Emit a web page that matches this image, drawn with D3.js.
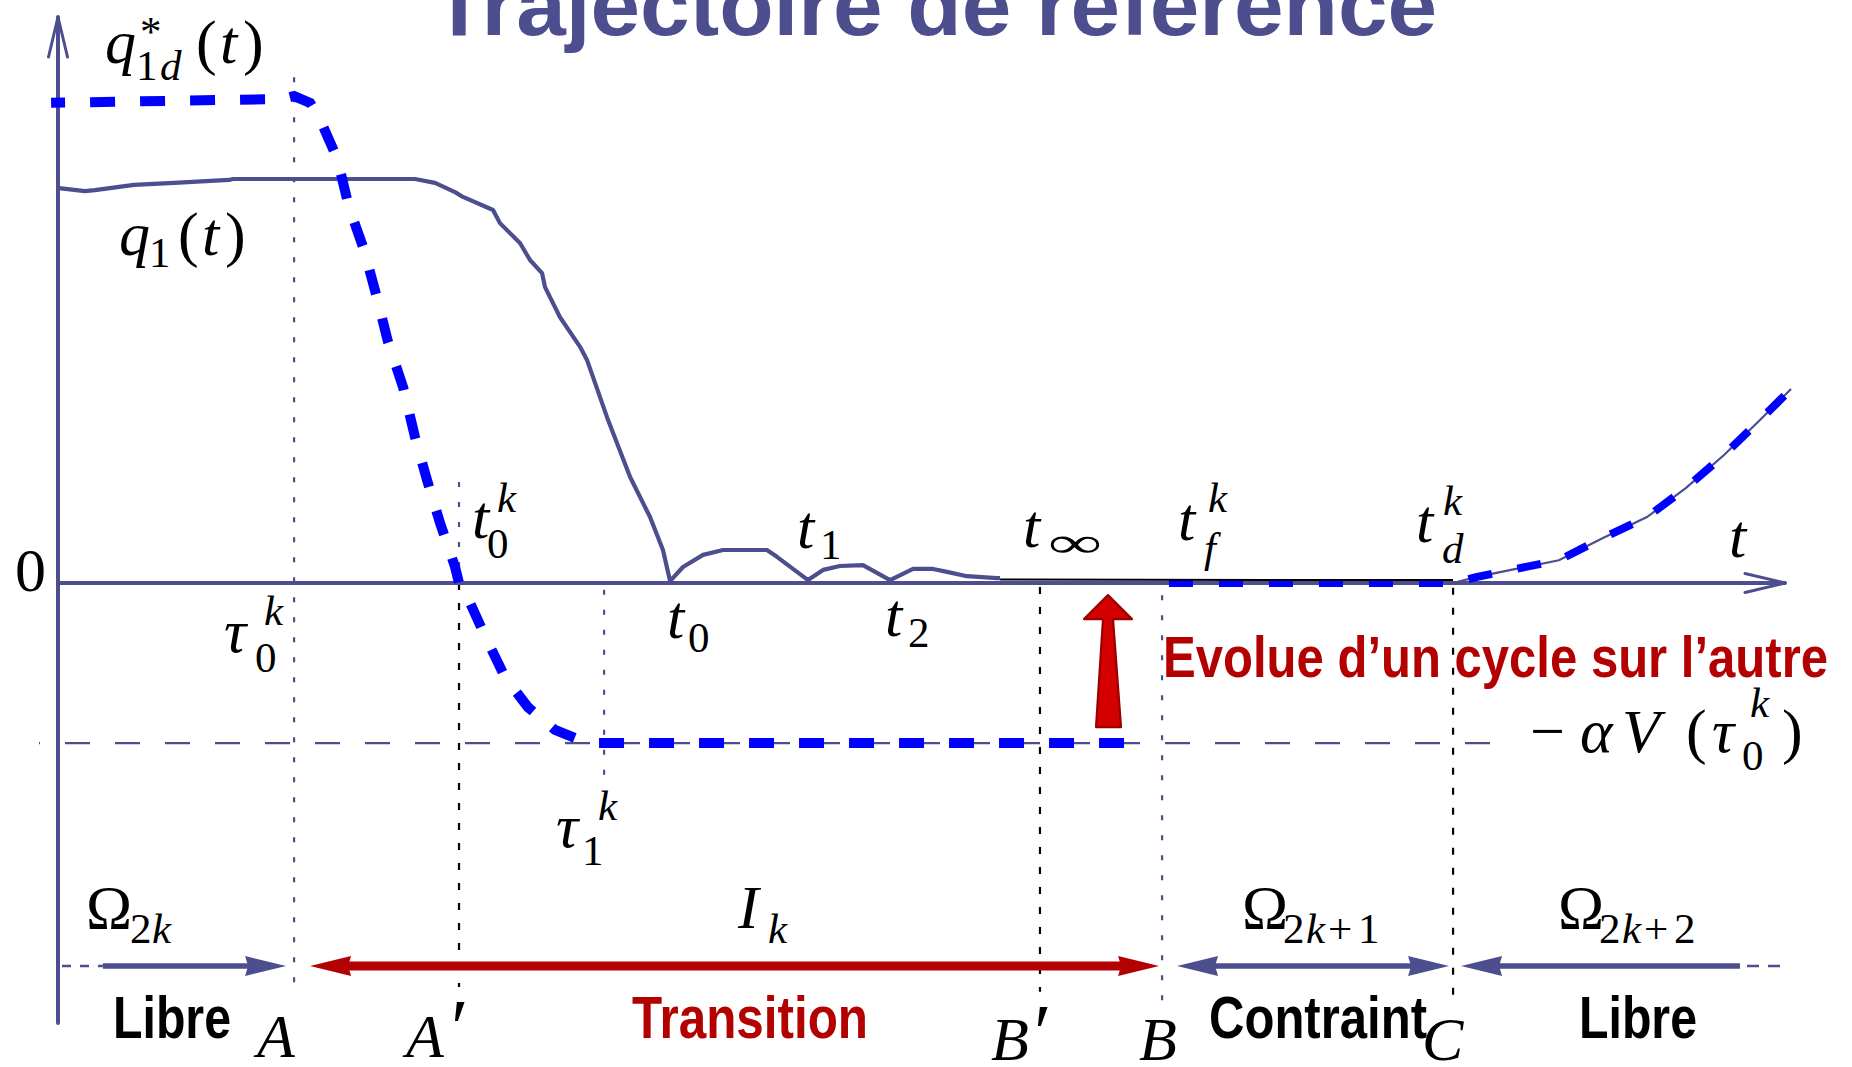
<!DOCTYPE html>
<html>
<head>
<meta charset="utf-8">
<script src="https://cdn.jsdelivr.net/npm/d3@7"></script>
<style>
  html, body { margin: 0; padding: 0; background: #fff; overflow: hidden; }
  svg { display: block; }
</style>
</head>
<body>
<svg id="chart" width="1852" height="1067"></svg>
<script>
// ---- measured joint position q1(t) (time in arbitrary units, q normalised) ----
const q1Time  = [0.06, 1.56, 2.14, 4.40, 6.72, 9.90, 10.13, 20.67, 21.83, 22.99, 23.45, 25.19, 25.59,
                 26.75, 27.33, 28.03, 28.20, 29.07, 30.23, 30.63, 31.79, 33.12, 34.28, 35.03, 35.44,
                 36.19, 37.35, 38.51, 41.05, 41.63, 43.43, 44.30, 45.28, 46.61, 48.18, 49.51, 50.67,
                 51.48, 52.63, 54.37, 54.55];
const q1Value = [0.814, 0.808, 0.810, 0.821, 0.825, 0.831, 0.833, 0.833, 0.825, 0.806, 0.796, 0.769, 0.742,
                 0.701, 0.666, 0.639, 0.610, 0.548, 0.487, 0.460, 0.342, 0.219, 0.136, 0.068, 0.004,
                 0.033, 0.058, 0.068, 0.068, 0.054, 0.006, 0.027, 0.035, 0.037, 0.006, 0.029, 0.029,
                 0.023, 0.014, 0.010, 0.010];

// q1 once it has settled on the constraint (t_inf -> t_d^k)
const q1SettledTime  = [54.55, 80.78];
const q1SettledValue = [0.007, 0.006];

// ---- reference trajectory q*_1d(t) during the transition phase ----
const qdTransTime  = [-0.4, 13.0, 13.67, 14.6, 15.23, 16.16, 16.85, 17.72, 18.47, 19.11, 19.98, 20.67,
                      21.37, 22.12, 22.99, 23.22, 23.86, 24.84, 25.88, 27.21, 28.78, 30.23, 31.21, 62.83];
const qdTransValue = [0.990, 0.998, 1.004, 0.990, 0.951, 0.876, 0.775, 0.687, 0.588, 0.497, 0.404, 0.301,
                      0.212, 0.124, 0.033, 0.000, -0.041, -0.118, -0.194, -0.256, -0.303, -0.324, -0.330, -0.330];

// ---- reference trajectory on the constraint, then released (free motion) ----
const qdFreeTime  = [64.33, 80.78, 82.11, 84.13, 86.91, 89.46, 92.01, 94.27, 96.47, 98.55, 100.35];
const qdFreeValue = [0.000, 0.000, 0.012, 0.027, 0.047, 0.093, 0.136, 0.196, 0.264, 0.336, 0.400];

// impact level -alpha V(tau_0^k)
const alphaVLevel = -0.330;

// event instants on the time axis
const eventNames = ['A', "A'", 'tau1', "B'", 'B', 'C'];
const eventTimes = [13.67, 23.22, 31.62, 56.86, 63.93, 80.78];

// ---- styling ----
const SLATE = '#4c4e8e', BLUE = '#0000ff', RED = '#b30000';
const MATH = "'Liberation Serif','DejaVu Serif',serif";
const NARROW = "'Liberation Sans Narrow','Liberation Sans','Arial Narrow',sans-serif";
const MAIN = 62, SUB = 43;

const svg = d3.select('#chart');
svg.append('rect').attr('width', 1852).attr('height', 1067).attr('fill', '#fff');

const x = d3.scaleLinear().domain([0, 100]).range([58, 1785]);
const y = d3.scaleLinear().domain([0, 1]).range([583, 98]);

const zip = (ts, vs) => ts.map((t, i) => [t, vs[i]]);
const line = d3.line().x(d => x(d[0])).y(d => y(d[1]));

// ---- title ----
svg.append('text')
  .attr('x', 432).attr('y', 35)
  .attr('font-family', NARROW).attr('font-weight', 700).attr('font-size', 86)
  .attr('fill', SLATE)
  .attr('textLength', 1005).attr('lengthAdjust', 'spacingAndGlyphs')
  .text('Trajectoire de référence');

// ---- vertical guides at the event instants ----
const ev = Object.fromEntries(eventNames.map((n, i) => [n, eventTimes[i]]));
const guides = [
  { t: ev['A'],    q0: 1.043,  q1: -0.833, color: SLATE, dash: '5,15' },
  { t: ev["A'"],   q0: 0.208,  q1: 0.0,    color: SLATE, dash: '5,15' },
  { t: ev["A'"],   q0: 0.0,    q1: -0.833, color: '#000', dash: '7,13' },
  { t: ev['tau1'], q0: -0.014, q1: -0.421, color: SLATE, dash: '5,15' },
  { t: ev["B'"],   q0: -0.008, q1: -0.843, color: '#000', dash: '7,13' },
  { t: ev['B'],    q0: -0.025, q1: -0.866, color: SLATE, dash: '5,15' },
  { t: ev['C'],    q0: -0.010, q1: -0.849, color: '#000', dash: '7,13' }
];
svg.append('g').selectAll('line').data(guides).join('line')
  .attr('x1', d => x(d.t)).attr('x2', d => x(d.t))
  .attr('y1', d => y(d.q0)).attr('y2', d => y(d.q1))
  .attr('stroke', d => d.color).attr('stroke-width', 2.2)
  .attr('stroke-dasharray', d => d.dash);

// ---- -alpha V level (thin dashed) ----
svg.append('line')
  .attr('x1', x(-1.1)).attr('x2', x(83.3))
  .attr('y1', y(alphaVLevel)).attr('y2', y(alphaVLevel))
  .attr('stroke', SLATE).attr('stroke-width', 2.2)
  .attr('stroke-dasharray', '25,25').attr('stroke-dashoffset', 24);

// ---- axes ----
const axes = svg.append('g').attr('stroke', SLATE).attr('fill', 'none').attr('stroke-linecap', 'round');
axes.append('line').attr('x1', x(0)).attr('x2', x(0)).attr('y1', y(-0.907)).attr('y2', y(1.167)).attr('stroke-width', 4);
axes.append('line').attr('x1', x(0)).attr('x2', x(100)).attr('y1', y(0)).attr('y2', y(0)).attr('stroke-width', 4);
axes.append('path').attr('stroke-width', 3)
  .attr('d', `M${x(0) - 9.5},${y(1.167) + 40} L${x(0)},${y(1.167)} L${x(0) + 9.5},${y(1.167) + 40}`);
axes.append('path').attr('stroke-width', 3)
  .attr('d', `M${x(100) - 40},${y(0) - 9.5} L${x(100)},${y(0)} L${x(100) - 40},${y(0) + 9.5}`);

// ---- q1(t) ----
svg.append('path').datum(zip(q1Time, q1Value))
  .attr('d', line).attr('fill', 'none').attr('stroke', SLATE)
  .attr('stroke-width', 4.2).attr('stroke-linejoin', 'round');

// q1 following the released reference
const qdFree = zip(qdFreeTime, qdFreeValue);
svg.append('path').datum(qdFree.slice(1))
  .attr('d', line).attr('fill', 'none').attr('stroke', SLATE).attr('stroke-width', 2.2);

// ---- q*_1d(t) (thick blue dashed) ----
svg.append('path').datum(zip(qdTransTime, qdTransValue))
  .attr('d', line).attr('fill', 'none').attr('stroke', BLUE)
  .attr('stroke-width', 10).attr('stroke-dasharray', '25,25').attr('stroke-dashoffset', 11);
svg.append('path').datum(qdFree)
  .attr('d', line).attr('fill', 'none').attr('stroke', BLUE)
  .attr('stroke-width', 8).attr('stroke-dasharray', '24,26');

// q1 settled (thin black)
svg.append('path').datum(zip(q1SettledTime, q1SettledValue))
  .attr('d', line).attr('fill', 'none').attr('stroke', '#000').attr('stroke-width', 2);

// ---- red arrow: the impact level evolves from one cycle to the next ----
const arrowT = 60.8, arrowBase = -0.297, arrowTip = -0.025;
(function () {
  const cx = x(arrowT), yt = y(arrowTip), yb = y(arrowBase), yh = yt + 24;
  const p = [[cx, yt], [cx + 24, yh], [cx + 5, yh], [cx + 13, yb], [cx - 12, yb], [cx - 5, yh], [cx - 24, yh]];
  svg.append('path').attr('d', 'M' + p.join('L') + 'Z')
    .attr('fill', '#d40000').attr('stroke', '#9a0000').attr('stroke-width', 2.2)
    .attr('stroke-linejoin', 'round');
})();

svg.append('text')
  .attr('x', 1163).attr('y', 677)
  .attr('font-family', NARROW).attr('font-weight', 700).attr('font-size', 58)
  .attr('fill', RED)
  .attr('textLength', 665).attr('lengthAdjust', 'spacingAndGlyphs')
  .text('Evolue d’un cycle sur l’autre');

// ---- math labels ----
const mg = svg.append('g').attr('font-family', MATH).attr('fill', '#000');
function mathLabel(x0, y0, parts) {
  parts.forEach(([s, dx, dy, kind, w, fs]) => {
    const t = mg.append('text')
      .attr('x', x0 + dx).attr('y', y0 + dy)
      .attr('font-size', fs || (kind[0] === 's' ? SUB : MAIN))
      .attr('font-style', kind.endsWith('i') ? 'italic' : 'normal')
      .text(s);
    if (w) t.attr('textLength', w).attr('lengthAdjust', 'spacingAndGlyphs');
  });
}
mathLabel(105, 63, [['q', 0, 0, 'i'], ['*', 35, -17, 'sr'], ['1', 31, 17, 'sr'], ['d', 55, 17, 'si'],
                    ['(', 91, 0, 'r'], ['t', 115, 0, 'i'], [')', 138, 0, 'r']]);
mathLabel(119, 255, [['q', 0, 0, 'i'], ['1', 30, 12, 'sr'], ['(', 59, 0, 'r'], ['t', 83, 0, 'i'], [')', 106, 0, 'r']]);
mathLabel(15, 591, [['0', 0, 0, 'r']]);
mathLabel(224, 652, [['τ', 0, 0, 'i'], ['0', 31, 20, 'sr'], ['k', 40, -27, 'si']]);
mathLabel(472, 538, [['t', 0, 0, 'i'], ['0', 15, 20, 'sr'], ['k', 25, -26, 'si']]);
mathLabel(556, 847, [['τ', 0, 0, 'i'], ['1', 26, 18, 'sr'], ['k', 42, -27, 'si']]);
mathLabel(667, 638, [['t', 0, 0, 'i'], ['0', 21, 14, 'sr']]);
mathLabel(797, 548, [['t', 0, 0, 'i'], ['1', 23, 11, 'sr']]);
mathLabel(885, 636, [['t', 0, 0, 'i'], ['2', 23, 11, 'sr']]);
mathLabel(1023, 547, [['t', 0, 0, 'i'], ['∞', 25, 10, 'sr', 54]]);
mathLabel(1178, 540, [['t', 0, 0, 'i'], ['f', 26, 22, 'si'], ['k', 30, -28, 'si']]);
mathLabel(1416, 542, [['t', 0, 0, 'i'], ['d', 26, 21, 'si'], ['k', 27, -27, 'si']]);
mathLabel(1729, 557, [['t', 0, 0, 'i']]);
mathLabel(1530, 752, [['−', 0, 0, 'r'], ['α', 50, 0, 'i'], ['V', 92, 0, 'i'], ['(', 156, 0, 'r'],
                      ['τ', 182, 0, 'i'], ['0', 212, 18, 'sr'], ['k', 220, -35, 'si'], [')', 252, 0, 'r']]);
mathLabel(86, 928, [['Ω', 0, 0, 'r'], ['2', 44, 15, 'sr'], ['k', 66, 15, 'si']]);
mathLabel(738, 928, [['I', 0, 0, 'i'], ['k', 30, 15, 'si']]);
mathLabel(1242, 928, [['Ω', 0, 0, 'r'], ['2', 41, 15, 'sr'], ['k', 64, 15, 'si'], ['+', 86, 15, 'sr'], ['1', 116, 15, 'sr']]);
mathLabel(1558, 928, [['Ω', 0, 0, 'r'], ['2', 41, 15, 'sr'], ['k', 64, 15, 'si'], ['+', 86, 15, 'sr'], ['2', 116, 15, 'sr']]);
mathLabel(257, 1057, [['A', 0, 0, 'i']]);
mathLabel(406, 1057, [['A', 0, 0, 'i'], ['′', 45, -2, 'r', null, 80]]);
mathLabel(991, 1060, [['B', 0, 0, 'i'], ['′', 43, 0, 'r', null, 80]]);
mathLabel(1139, 1060, [['B', 0, 0, 'i']]);
mathLabel(1422, 1060, [['C', 0, 0, 'i']]);

// ---- phase arrows along the bottom ----
const ROW = 966;
const ag = svg.append('g');
function head(xTip, dir, color) {
  const l = 41, h = 10;
  ag.append('path')
    .attr('d', `M${xTip},${ROW} L${xTip - dir * l},${ROW - h} L${xTip - dir * (l - 3)},${ROW} L${xTip - dir * l},${ROW + h} Z`)
    .attr('fill', color);
}
function phaseArrow(x1, x2, color, w, startHead, endHead) {
  ag.append('line')
    .attr('x1', startHead ? x1 + 30 : x1).attr('x2', endHead ? x2 - 30 : x2)
    .attr('y1', ROW).attr('y2', ROW)
    .attr('stroke', color).attr('stroke-width', w);
  if (startHead) head(x1, -1, color);
  if (endHead) head(x2, 1, color);
}
// Omega_2k : free
ag.append('line').attr('x1', x(0) + 4).attr('x2', x(2.6)).attr('y1', ROW).attr('y2', ROW)
  .attr('stroke', SLATE).attr('stroke-width', 2.5).attr('stroke-dasharray', '9,9');
phaseArrow(x(2.6), x(ev['A']) - 8, SLATE, 5.3, false, true);
// I_k : transition
phaseArrow(x(ev['A']) + 16, x(ev['B']) - 3, RED, 9, true, true);
// Omega_2k+1 : constrained
phaseArrow(x(ev['B']) + 15, x(ev['C']) - 4, SLATE, 5.3, true, true);
// Omega_2k+2 : free
phaseArrow(x(ev['C']) + 8, 1740, SLATE, 5.3, true, false);
ag.append('line').attr('x1', 1747).attr('x2', 1781).attr('y1', ROW).attr('y2', ROW)
  .attr('stroke', SLATE).attr('stroke-width', 2.5).attr('stroke-dasharray', '12,9');

const words = [['Libre', 113, 118, '#000'], ['Transition', 632, 236, RED],
               ['Contraint', 1209, 218, '#000'], ['Libre', 1579, 118, '#000']];
svg.append('g').selectAll('text').data(words).join('text')
  .attr('x', d => d[1]).attr('y', 1038)
  .attr('font-family', NARROW).attr('font-weight', 700).attr('font-size', 60)
  .attr('fill', d => d[3])
  .attr('textLength', d => d[2]).attr('lengthAdjust', 'spacingAndGlyphs')
  .text(d => d[0]);
</script>
</body>
</html>
